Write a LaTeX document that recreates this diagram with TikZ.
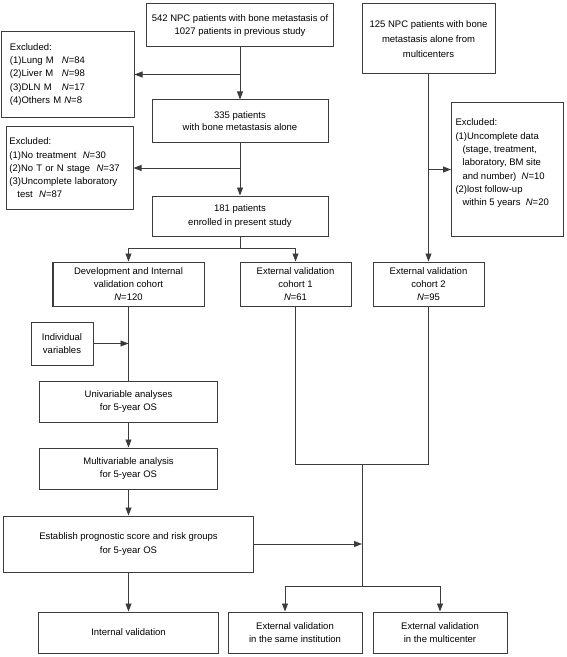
\documentclass[tikz,border=0pt]{standalone}
\usepackage{fontspec}
\setmainfont{Liberation Sans}
\usetikzlibrary{arrows.meta}
\definecolor{boxgray}{RGB}{60,60,60}

\begin{document}
\begin{tikzpicture}[
    x=1bp, y=-1bp,
    font=\fontsize{9.5bp}{13.3bp}\selectfont,
    box/.style={rectangle, draw=boxgray, line width=1bp, inner sep=0pt, align=center},
    exbox/.style={box, align=left},
    arrow/.style={-{Triangle[length=8bp, width=6bp]}, draw=boxgray, line width=0.9bp},
    line/.style={draw=boxgray, line width=0.9bp}
]
    \useasboundingbox (0,0) rectangle (567,657);

    % patient selection
    \node[box, minimum width=187bp, minimum height=43bp] (prev) at (240,25.5) {542 NPC patients with bone metastasis of\\1027 patients in previous study};
    \node[box, minimum width=133bp, minimum height=70bp, font=\fontsize{9.5bp}{15bp}\selectfont] (bmulti) at (428.5,39) {125 NPC patients with bone\\metastasis alone from\\multicenters};
    \node[exbox, text width=116bp, inner xsep=8bp, minimum height=85bp] (excl1) at (68,74.5) {Excluded:\\
        \makebox[52bp][l]{(1)Lung M}\textit{N}=84\\
        \makebox[52bp][l]{(2)Liver M}\textit{N}=98\\
        \makebox[52bp][l]{(3)DLN M}\textit{N}=17\\
        (4)Others M~\textit{N}=8};
    \node[box, minimum width=176bp, minimum height=42bp, font=\fontsize{9.5bp}{11.6bp}\selectfont] (alone) at (240,121) {335 patients\\with bone metastasis alone};
    \node[exbox, text width=121bp, inner xsep=2.5bp, minimum height=82bp] (excl2) at (70,168) {Excluded:\\
        (1)No treatment~~\textit{N}=30\\
        (2)No T or N stage~~\textit{N}=37\\
        (3)Uncomplete laboratory\\
        \hspace*{8bp}test~~\textit{N}=87};
    \node[box, minimum width=176bp, minimum height=40bp] (enrol) at (240,216) {181 patients\\enrolled in present study};
    \node[box, inner xsep=4bp, inner ysep=0pt, anchor=north west] (excl3) at (451,102) {\parbox[c][134bp][t]{104bp}{\raggedright\vspace*{16.5bp}Excluded:\\
        (1)Uncomplete data\\
        \hspace*{7bp}(stage, treatment,\\
        \hspace*{7bp}laboratory, BM site\\
        \hspace*{7bp}and number)~~\textit{N}=10\\
        (2)lost follow-up\\
        \hspace*{7bp}within 5 years~~\textit{N}=20}};

    % cohorts
    \node[box, minimum width=151bp, minimum height=44bp] (dev) at (128.5,284) {Development and Internal\\validation cohort\\\textit{N}=120};
    \node[box, minimum width=111bp, minimum height=44bp] (ev1) at (295.5,284) {External validation\\cohort 1\\\textit{N}=61};
    \node[box, minimum width=111bp, minimum height=44bp] (ev2) at (428.5,284) {External validation\\cohort 2\\\textit{N}=95};
    \node[box, minimum width=62bp, minimum height=43bp] (indiv) at (62,343.5) {Individual\\variables};

    % analyses
    \node[box, minimum width=178bp, minimum height=41bp] (univ) at (128.5,401.5) {Univariable analyses\\for 5-year OS};
    \node[box, minimum width=178bp, minimum height=41bp] (multiv) at (128.5,468.5) {Multivariable analysis\\for 5-year OS};
    \node[box, minimum width=250bp, minimum height=56bp] (est) at (128.5,544) {Establish prognostic score and risk groups\\for 5-year OS};

    % validation
    \node[box, minimum width=179bp, minimum height=41bp] (inval) at (128.5,632.5) {Internal validation};
    \node[box, minimum width=134bp, minimum height=41bp] (same) at (295,632.5) {External validation\\in the same institution};
    \node[box, minimum width=134bp, minimum height=41bp] (multic) at (440,632.5) {External validation\\in the multicenter};

    \coordinate (split1) at (240,248);
    \coordinate (join) at (362,464);
    \coordinate (split2) at (362,586);

    \draw[arrow] (prev) -- (alone);
    \draw[arrow] (prev.south |- excl1.east) -- (excl1.east);
    \draw[arrow] (alone) -- (enrol);
    \draw[arrow] (alone.south |- excl2.east) -- (excl2.east);
    \draw[line] (enrol) -- (split1);
    \draw[arrow] (split1) -| (dev);
    \draw[arrow] (split1) -| (ev1);
    \draw[arrow] (bmulti) -- (ev2);
    \draw[arrow] (bmulti.south |- excl3.west) -- (excl3.west);

    \draw[line] (dev) -- (univ);
    \draw[arrow] (indiv) -- (indiv -| dev);
    \draw[arrow] (univ) -- (multiv);
    \draw[arrow] (multiv) -- (est);
    \draw[arrow] (est) -- (inval);

    \draw[line] (ev1) |- (join);
    \draw[line] (ev2) |- (join);
    \draw[line] (join) -- (split2);
    \draw[arrow] (est) -- (est -| join);
    \draw[arrow] (split2) -| ([xshift=-10bp]same.north);
    \draw[arrow] (split2) -| (multic);
\end{tikzpicture}
\end{document}
